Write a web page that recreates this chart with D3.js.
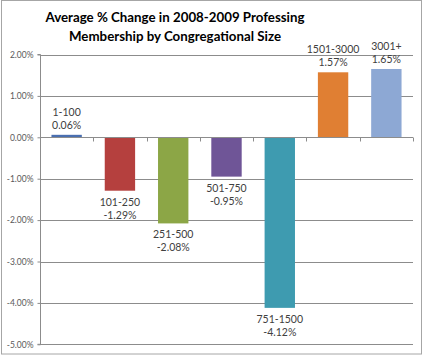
<!DOCTYPE html>
<html>
<head>
<meta charset="utf-8">
<script src="https://cdn.jsdelivr.net/npm/d3@7"></script>
<style>
  html, body { margin: 0; padding: 0; background: #fff; }
  svg { display: block; }
</style>
</head>
<body>
<svg id="chart" width="425" height="356"></svg>
<script>
const titleLines = ["Average % Change in 2008-2009 Professing", "Membership by Congregational  Size"];
const categories = ["1-100", "101-250", "251-500", "501-750", "751-1500", "1501-3000", "3001+"];
const values = [0.06, -1.29, -2.08, -0.95, -4.12, 1.57, 1.65];
const colors = ["#4A6FB0", "#B5403E", "#8CA646", "#6F5597", "#3E9BB0", "#E07F33", "#8DA8D4"];
const yTicks = [2, 1, 0, -1, -2, -3, -4, -5];

const svg = d3.select("#chart");
const font = "Lato, 'Open Sans', Arial, sans-serif";
const plot = { left: 40, right: 413, top: 54.5, bottom: 344.3 };
const pct = d => d3.format(".2f")(d).replace("\u2212", "-") + "%";

// outer border
svg.append("rect")
  .attr("x", 1.5).attr("y", 0.5)
  .attr("width", 420).attr("height", 353.5)
  .attr("fill", "#fff").attr("stroke", "#a6a6a6").attr("stroke-width", 1);

// title
const title = svg.append("text")
  .attr("text-anchor", "middle")
  .attr("font-family", font)
  .attr("font-weight", "bold")
  .attr("font-size", 13.3)
  .attr("fill", "#000");
titleLines.forEach((t, i) => {
  title.append("tspan").attr("x", 175).attr("y", 22 + i * 19).text(t);
});

const y = d3.scaleLinear().domain([-5, 2]).range([plot.bottom, plot.top]);
const x = d3.scaleBand().domain(categories).range([plot.left, plot.right])
  .paddingInner(0.43).paddingOuter(0.215);
const step = x.step();

// gridlines
svg.append("g").selectAll("line").data(yTicks).join("line")
  .attr("x1", plot.left).attr("x2", plot.right)
  .attr("y1", d => Math.round(y(d)) + 0.5).attr("y2", d => Math.round(y(d)) + 0.5)
  .attr("stroke", "#8c8c8c").attr("stroke-width", 1);

// y axis
const yAxis = d3.axisLeft(y).tickValues(yTicks).tickSize(3).tickPadding(4)
  .tickFormat(pct);
const gy = svg.append("g").attr("transform", `translate(${plot.left + 0.5},0)`).call(yAxis);
gy.select(".domain").attr("stroke", "#8c8c8c").attr("d", `M-3,${y(2)}H0V${y(-5)}H-3`);
gy.selectAll(".tick line").attr("stroke", "#8c8c8c");
gy.selectAll(".tick text").attr("font-family", font).attr("font-size", 8.5).attr("fill", "#595959");

// bars
svg.append("g").selectAll("rect").data(values).join("rect")
  .attr("x", (d, i) => x(categories[i]))
  .attr("width", x.bandwidth())
  .attr("y", d => y(Math.max(0, d)))
  .attr("height", d => Math.max(1.5, Math.abs(y(d) - y(0))))
  .attr("fill", (d, i) => colors[i]);

// category axis at zero with tick marks at band boundaries
const y0 = Math.round(y(0)) + 0.5;
svg.append("line").attr("x1", plot.left).attr("x2", plot.right)
  .attr("y1", y0).attr("y2", y0).attr("stroke", "#8c8c8c");
const boundaries = d3.range(categories.length + 1).map(i => plot.left + i * step);
svg.append("g").selectAll("line").data(boundaries.slice(1)).join("line")
  .attr("x1", d => Math.round(d) + 0.5).attr("x2", d => Math.round(d) + 0.5)
  .attr("y1", y0).attr("y2", y0 + 4)
  .attr("stroke", "#8c8c8c");

// data labels
const labels = svg.append("g").attr("font-family", font).attr("font-size", 10.5)
  .attr("fill", "#404040").attr("text-anchor", "middle");
values.forEach((v, i) => {
  const cx = x(categories[i]) + x.bandwidth() / 2;
  const t = labels.append("text");
  if (v >= 0) {
    const top = y(v);
    t.append("tspan").attr("x", cx).attr("y", top - 19).text(categories[i]);
    t.append("tspan").attr("x", cx).attr("y", top - 6).text(pct(v));
  } else {
    const bot = y(v);
    t.append("tspan").attr("x", cx).attr("y", bot + 15).text(categories[i]);
    t.append("tspan").attr("x", cx).attr("y", bot + 28).text(pct(v));
  }
});
</script>
</body>
</html>
